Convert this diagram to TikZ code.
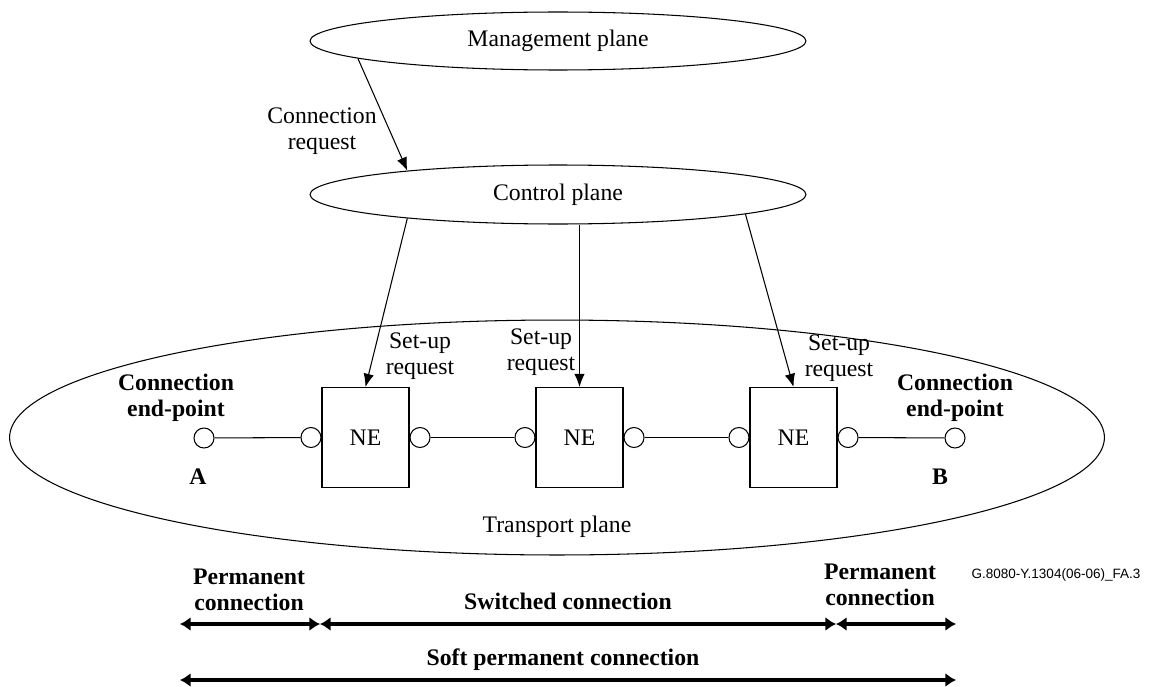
\documentclass[tikz,border=0pt]{standalone}
\usepackage{fontspec}
\setmainfont{Liberation Serif}
\newfontfamily\codefont{Liberation Sans}
\usetikzlibrary{positioning,arrows.meta,shapes.geometric}

\begin{document}
\begin{tikzpicture}[x=0.02cm,y=-0.02cm,
   font=\fontsize{13.5}{15}\selectfont,
   line width=0.6pt,>={Latex[length=7.5pt,width=6pt]},
   plane/.style={draw,ellipse,inner sep=0pt},
   nebox/.style={draw,minimum width=1.74cm,minimum height=2cm,inner sep=0pt},
   port/.style={draw,circle,minimum size=0.4cm,inner sep=0pt},
   lbl/.style={align=center,inner sep=0pt},
   blbl/.style={align=center,inner sep=0pt,font=\fontsize{13.5}{15}\selectfont\bfseries},
   span/.style={line width=2pt,{Latex[length=6pt,width=8pt]}-{Latex[length=6pt,width=8pt]}},
]
\useasboundingbox (0,0) rectangle (1155,686);

% ----- planes
\node[plane,minimum width=9.92cm,minimum height=1.16cm] (mgmt) at (558,41) {Management plane};
\node[plane,minimum width=9.92cm,minimum height=1.18cm] (ctrl) at (558,194.5) {Control plane};
\node[plane,minimum width=21.9cm,minimum height=4.7cm] (tsp) at (557,437.5) {};
\node[lbl] (tsplbl) at (557,527) {Transport plane};

% ----- network elements and ports
\node[nebox] (ne1) at (365.5,437.5) {NE};
\node[nebox] (ne2) at (579.5,437.5) {NE};
\node[nebox] (ne3) at (793.5,437.5) {NE};
\node[port,left=0pt of ne1]  (p1) {};
\node[port,right=0pt of ne1] (p2) {};
\node[port,left=0pt of ne2]  (p3) {};
\node[port,right=0pt of ne2] (p4) {};
\node[port,left=0pt of ne3]  (p5) {};
\node[port,right=0pt of ne3] (p6) {};
\node[port] (epA) at (204,438) {};
\node[port] (epB) at (955,438) {};

% wires
\draw (epA) -- (p1);
\draw (p2) -- (p3);
\draw (p4) -- (p5);
\draw (p6) -- (epB);

% requests
\draw[->] (mgmt.185.7) -- (ctrl.171.9);
\draw[->] (ctrl.189) -- (ne1.north);
\draw[->] (ctrl.south -| ne2.north) -- (ne2.north);
\draw[->] (ctrl.354.7) -- (ne3.north);

% labels
\node[lbl] (connreq) at (322,131) {Connection\\request};
\node[lbl] (su1) at (420,356) {Set-up\\request};
\node[lbl] (su2) at (541,352) {Set-up\\request};
\node[lbl] (su3) at (839,358) {Set-up\\request};
\node[blbl] (epAlbl) at (176,398) {Connection\\end-point};
\node[blbl] (epBlbl) at (955,398) {Connection\\end-point};
\node[blbl] (Albl) at (198,477) {A};
\node[blbl] (Blbl) at (940,477) {B};
\node[font=\codefont\fontsize{7.7}{9}\selectfont,anchor=east,inner sep=0pt] (figid)
   at (1141,575) {G.8080-Y.1304(06-06)\_FA.3};

% ----- connection spans
\node[blbl] (perm1) at (249,590) {Permanent\\connection};
\node[blbl] (swc) at (568,601) {Switched connection};
\node[blbl] (perm2) at (880,585) {Permanent\\connection};
\node[blbl] (soft) at (563,660) {Soft permanent connection};
\coordinate (s0) at (180,624);
\coordinate (s1) at (320,624);
\coordinate (s2) at (836,624);
\coordinate (s3) at (956,624);
\coordinate (t0) at (180,680);
\coordinate (t1) at (956,680);
\draw[span] (s0) -- (s1);
\draw[span] (s1) -- (s2);
\draw[span] (s2) -- (s3);
\draw[span] (t0) -- (t1);
\end{tikzpicture}
\end{document}
